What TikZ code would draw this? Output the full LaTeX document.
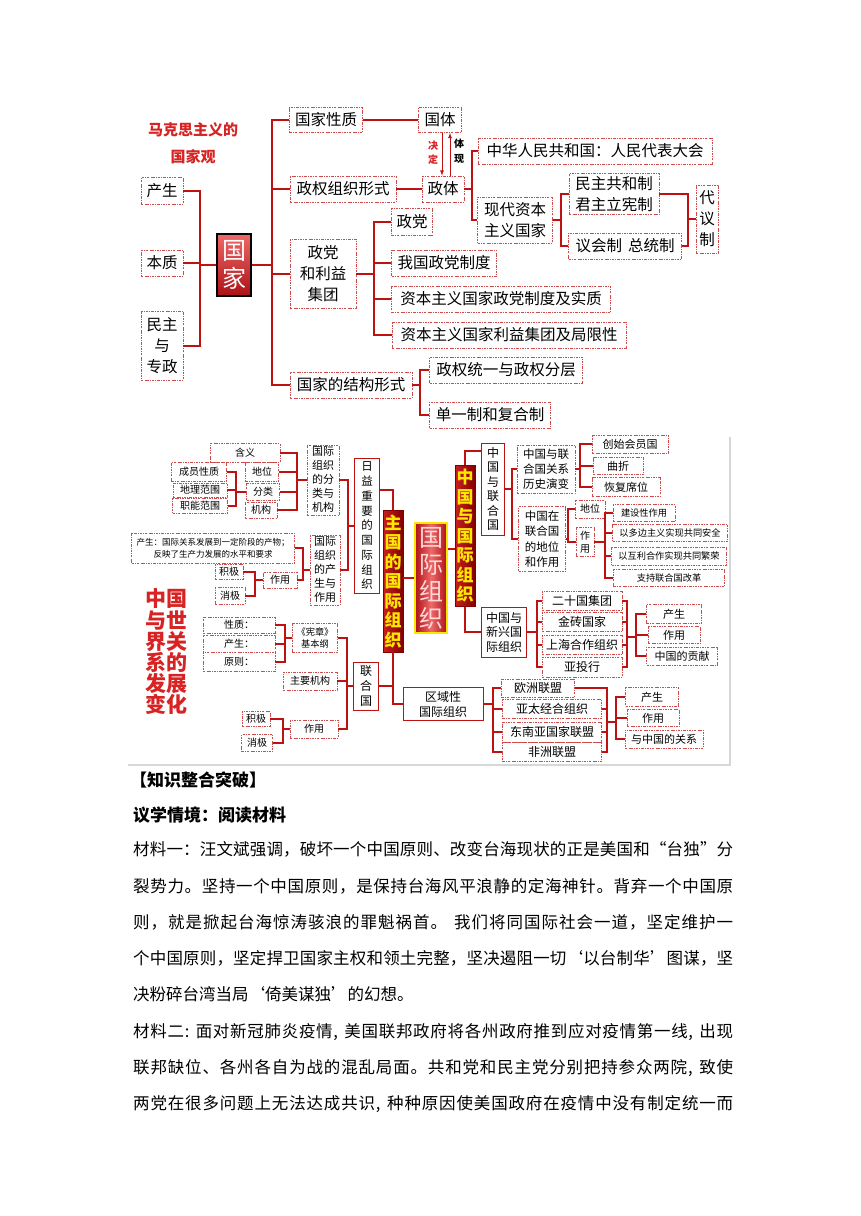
\documentclass[tikz,border=0pt]{standalone}
\usepackage{fontspec}
\setmainfont{Noto Sans CJK SC}

\definecolor{linkred}{RGB}{190,18,18}
\definecolor{dashred}{RGB}{205,75,75}
\definecolor{titlered}{RGB}{215,35,35}
\definecolor{boxdark}{RGB}{130,0,0}
\definecolor{boxmid}{RGB}{200,32,32}
\definecolor{shadelight}{RGB}{238,105,105}
\definecolor{shadedark}{RGB}{172,18,22}
\definecolor{goldtext}{RGB}{255,232,0}
\definecolor{framegray}{RGB}{215,215,215}

\newcommand\gap{\hskip 5pt\relax}
\def\spreadloop#1{\ifx#1\relax\else\hskip 0pt plus 1fil\relax#1\expandafter\spreadloop\fi}
\def\spreadfirst#1{#1\spreadloop}
\newcommand\textrow[1]{\makebox[600pt][s]{\spreadfirst#1\relax}}

\begin{document}
\begin{tikzpicture}[x=1pt,y=-1pt,
  link/.style={draw=linkred,line width=2.4pt},
  twig/.style={draw=linkred,line width=1.9pt},
  sz/.style 2 args={minimum width=#1pt,minimum height=#2pt},
  dbox/.style={draw=dashred,dash pattern=on 2.4pt off 1.2pt on 0.6pt off 1.2pt,line width=0.7pt,fill=white,inner sep=0pt,align=center,font=\fontsize{15.5}{21}\selectfont},
  cellbox/.style={dbox,font=\fontsize{12}{15}\selectfont},
  smallbox/.style={dbox,font=\fontsize{10}{12.5}\selectfont},
  tinybox/.style={dbox,font=\fontsize{9.2}{12}\selectfont},
  solidbox/.style={draw=linkred,line width=0.8pt,fill=white,inner sep=0pt,align=center,font=\fontsize{12}{15}\selectfont},
  pillar/.style={draw=boxdark,line width=0.8pt,left color=boxmid,right color=boxdark,text=goldtext,inner sep=0pt,align=center,font=\fontsize{17}{19.5}\bfseries},
  bodyrow/.style={anchor=west,inner sep=0pt,font=\fontsize{16.5}{16.5}\selectfont},
  heading/.style={anchor=west,inner sep=0pt,font=\fontsize{17}{17}\bfseries}]
\useasboundingbox[fill=white] (0,0) rectangle (860,1216);

\node[text=titlered,align=center,font=\fontsize{15}{27}\bfseries] (title-marx) at (193,143) {马克思主义的\\国家观};
\node[dbox,sz={42}{27}] (birth) at (162,191) {产生};
\node[dbox,sz={42}{26}] (essence) at (162,263) {本质};
\node[dbox,sz={42}{69}] (democ) at (162,346) {民主\\与\\专政};
\node[draw=black,line width=1.2pt,top color=shadelight,bottom color=shadedark,text=white,sz={34}{62},inner sep=0pt,align=center,font=\fontsize{24}{28}\selectfont] (state) at (234,265) {国\\家};

\node[dbox,sz={73}{25}] (nature) at (326,120) {国家性质};
\node[dbox,sz={106}{26}] (form) at (343,189) {政权组织形式};
\node[dbox,sz={66}{69}] (party) at (323,274) {政党\\和利益\\集团};
\node[dbox,sz={122}{26}] (structure) at (351,385) {国家的结构形式};
\node[dbox,sz={43}{25}] (guoti) at (440,120) {国体};
\node[dbox,sz={42}{26}] (zhengti) at (443,189) {政体};
\node[text=titlered,align=center,font=\fontsize{10}{14}\bfseries] (lbl-decide) at (433,153) {决\\定};
\node[align=center,font=\fontsize{10}{15}\bfseries] (lbl-embody) at (459,151) {体\\现};
\node[dbox,sz={234}{26}] (prc) at (595,151) {中华人民共和国：人民代表大会};
\node[dbox,sz={75}{46}] (capital) at (515,220) {现代资本\\主义国家};
\node[dbox,sz={90}{41}] (republic) at (614,194) {民主共和制\\君主立宪制};
\node[dbox,sz={113}{26}] (parliament) at (625,246) {议会制\hspace{6pt}总统制};
\node[dbox,sz={22}{68}] (rep) at (707,219) {代\\议\\制};
\node[dbox,sz={41}{27}] (zd) at (412,222) {政党};
\node[dbox,sz={105}{26}] (ourparty) at (444,263) {我国政党制度};
\node[dbox,sz={219}{26}] (cap-party) at (501,299) {资本主义国家政党制度及实质};
\node[dbox,sz={234}{26}] (cap-interest) at (509,335) {资本主义国家利益集团及局限性};
\node[dbox,sz={153}{26}] (unify) at (506,370) {政权统一与政权分层};
\node[dbox,sz={121}{26}] (unitary) at (490,415) {单一制和复合制};

\coordinate (left-stem) at (200,0);
\coordinate (trunk) at (272,0);
\coordinate (decide-x) at (442,0);
\coordinate (embody-x) at (450,0);
\coordinate (zhengti-br) at (472,0);
\coordinate (capital-br) at (561,0);
\coordinate (rep-join) at (688,219);
\coordinate (party-br) at (374,0);
\coordinate (structure-br) at (420,0);
\foreach \k in {birth,essence,democ}
  \draw[link] (\k.east) -- (\k.east -| left-stem) |- (state.west);
\foreach \k in {nature,form,party,structure}
  \draw[link] (state.east) -- (state.east -| trunk) |- (\k.west);
\draw[link] (nature.east) -- (guoti.west);
\draw[link] (form.east) -- (zhengti.west);
\draw[-latex,draw=linkred,line width=0.8pt] (guoti.south -| decide-x) -- (zhengti.north -| decide-x);
\draw[-latex,draw=linkred,line width=0.8pt] (zhengti.north -| embody-x) -- (guoti.south -| embody-x);
\foreach \k in {prc,capital}
  \draw[link] (zhengti.east) -- (zhengti.east -| zhengti-br) |- (\k.west);
\foreach \k in {republic,parliament}
  \draw[link] (capital.east) -- (capital.east -| capital-br) |- (\k.west);
\draw[link] (republic.east) -| (rep-join) -- (rep.west);
\draw[link] (parliament.east) -| (rep-join);
\foreach \k in {zd,ourparty,cap-party,cap-interest}
  \draw[link] (party.east) -- (party.east -| party-br) |- (\k.west);
\foreach \k in {unify,unitary}
  \draw[link] (structure.east) -- (structure.east -| structure-br) |- (\k.west);

\draw[framegray,line width=1.5pt] (128,765) -- (730,765) -- (730,437);
\node[text=titlered,align=center,font=\fontsize{21}{21.2}\bfseries] (title-world) at (166,652) {中国\\与世\\界关\\系的\\发展\\变化};
\node[draw=goldtext,line width=1.5pt,left color=shadedark,right color=shadedark,middle color=shadelight,text=white!85!red,sz={32}{110},inner sep=0pt,align=center,font=\fontsize{24}{27}\selectfont] (intl) at (431,578) {国\\际\\组\\织};
\node[pillar,sz={20}{142}] (major) at (393,581) {主\\国\\的\\国\\际\\组\\织};
\node[pillar,sz={20}{141}] (china-io) at (465,536) {中\\国\\与\\国\\际\\组\\织};
\node[solidbox,sz={25}{135},font=\fontsize{11.5}{14.75}\selectfont] (rising) at (367,526) {日\\益\\重\\要\\的\\国\\际\\组\\织};
\node[solidbox,sz={25}{48}] (un) at (366,686) {联\\合\\国};
\node[solidbox,sz={80}{33}] (regional) at (443,704) {区域性\\国际组织};
\node[solidbox,sz={23}{92},font=\fontsize{12}{14.5}\selectfont] (cn-un) at (493,489) {中\\国\\与\\联\\合\\国};
\node[solidbox,sz={45}{50},font=\fontsize{12}{14.5}\selectfont] (emerging) at (504,632) {中国与\\新兴国\\际组织};

\node[cellbox,sz={58}{48},font=\fontsize{11.5}{15}\selectfont] (history) at (546,469) {中国与联\\合国关系\\历史演变};
\node[cellbox,sz={47}{65},font=\fontsize{11.5}{15.5}\selectfont] (status) at (542,539) {中国在\\联合国\\的地位\\和作用};
\node[smallbox,sz={76}{18},font=\fontsize{11}{13}\selectfont] (founding) at (630,444) {创始会员国};
\node[smallbox,sz={50}{17},font=\fontsize{11}{13}\selectfont] (twists) at (618,466) {曲折};
\node[smallbox,sz={68}{19},font=\fontsize{11}{13}\selectfont] (restore) at (626,487) {恢复席位};
\node[smallbox,sz={30}{18}] (position) at (590,509) {地位};
\node[smallbox,sz={18}{29}] (role-v) at (585,542) {作\\用};
\node[tinybox,sz={62}{17}] (constr) at (644,513) {建设性作用};
\node[tinybox,sz={115}{17}] (secur) at (670,533) {以多边主义实现共同安全};
\node[tinybox,sz={115}{18}] (prosp) at (669,556) {以互利合作实现共同繁荣};
\node[tinybox,sz={111}{17}] (reform) at (669,578) {支持联合国改革};

\node[cellbox,sz={80}{19}] (g20) at (582,601) {二十国集团};
\node[cellbox,sz={80}{19}] (brics) at (582,622) {金砖国家};
\node[cellbox,sz={80}{19}] (sco) at (582,645) {上海合作组织};
\node[cellbox,sz={80}{20}] (aiib) at (582,667) {亚投行};
\node[smallbox,sz={55}{19},font=\fontsize{11}{13}\selectfont] (e-birth) at (674,614) {产生};
\node[smallbox,sz={52}{17},font=\fontsize{11}{13}\selectfont] (e-role) at (674,635) {作用};
\node[smallbox,sz={71}{18},font=\fontsize{11}{13}\selectfont] (e-contrib) at (682,656) {中国的贡献};

\node[cellbox,sz={73}{18}] (eu) at (538,688) {欧洲联盟};
\node[cellbox,sz={99}{19}] (apec) at (552,709) {亚太经合组织};
\node[cellbox,sz={99}{20}] (asean) at (552,732) {东南亚国家联盟};
\node[cellbox,sz={99}{19}] (au) at (552,752) {非洲联盟};
\node[smallbox,sz={53}{19},font=\fontsize{11}{13}\selectfont] (r-birth) at (652,697) {产生};
\node[smallbox,sz={52}{17},font=\fontsize{11}{13}\selectfont] (r-role) at (653,718) {作用};
\node[smallbox,sz={78}{18},font=\fontsize{11}{13}\selectfont] (r-rel) at (664,739) {与中国的关系};

\node[cellbox,sz={32}{70},font=\fontsize{11}{14}\selectfont] (cls) at (323,480) {国际\\组织\\的分\\类与\\机构};
\node[cellbox,sz={30}{70},font=\fontsize{11}{14}\selectfont] (origin) at (325,570) {国际\\组织\\的产\\生与\\作用};
\node[smallbox,sz={70}{19}] (meaning) at (245,453) {含义};
\node[smallbox,sz={33}{19}] (pos2) at (262,472) {地位};
\node[smallbox,sz={33}{17}] (kinds) at (263,492) {分类};
\node[smallbox,sz={32}{16}] (organ) at (261,510) {机构};
\node[smallbox,sz={55}{19}] (member) at (199,472) {成员性质};
\node[smallbox,sz={54}{14}] (geo) at (200,490) {地理范围};
\node[smallbox,sz={55}{15}] (func) at (200,506) {职能范围};
\node[dbox,sz={163}{30},font=\fontsize{8.5}{12}\selectfont] (produce) at (213,548) {产生：国际关系发展到一定阶段的产物；\\反映了生产力发展的水平和要求};
\node[smallbox,sz={34}{16}] (o-role) at (280,580) {作用};
\node[smallbox,sz={28}{15}] (pos-a) at (229,572) {积极};
\node[smallbox,sz={30}{17}] (neg-a) at (230,596) {消极};

\node[tinybox,sz={45}{29}] (charter) at (315,638) {《宪章》\\基本纲};
\node[smallbox,sz={54}{18}] (organs) at (310,681) {主要机构};
\node[smallbox,sz={48}{18}] (un-role) at (314,729) {作用};
\node[smallbox,sz={72}{16}] (nat) at (239,625) {性质：};
\node[smallbox,sz={72}{18}] (prod) at (239,644) {产生：};
\node[smallbox,sz={72}{19}] (princ) at (239,662) {原则：};
\node[smallbox,sz={28}{15}] (pos-b) at (256,719) {积极};
\node[smallbox,sz={31}{17}] (neg-b) at (257,743) {消极};

\coordinate (rising-br) at (348,0);
\coordinate (cls-br) at (297,0);
\coordinate (kinds-br) at (236,0);
\coordinate (origin-br) at (303,0);
\coordinate (orole-br) at (255,0);
\coordinate (un-br) at (347,0);
\coordinate (charter-br) at (285,0);
\coordinate (unrole-br) at (283,0);
\coordinate (regional-br) at (493,0);
\coordinate (eu-join) at (607,722);
\coordinate (eu-br) at (616,0);
\coordinate (emerging-br) at (537,0);
\coordinate (em-join) at (627,637);
\coordinate (em-br) at (636,0);
\coordinate (cnun-br) at (512,0);
\coordinate (history-br) at (580,0);
\coordinate (status-br) at (568,0);
\coordinate (rolev-br) at (605,0);

\draw[twig] (intl.west) -- (intl.west -| major.east);
\draw[twig] ([yshift=29pt]intl.east) -- ([yshift=29pt]intl.east -| china-io.west);
\draw[twig] (china-io.north) |- ([yshift=38pt]cn-un.west);
\draw[twig] (china-io.south) |- (emerging.west);
\draw[twig] (major.north) |- ([yshift=36pt]rising.east);
\draw[twig] (major.south) |- (un.east);
\draw[twig] (major.south) |- (regional.west);
\foreach \k in {cls,origin}
  \draw[twig] (rising.west) -- (rising.west -| rising-br) |- (\k.east);
\foreach \k in {meaning,pos2,kinds,organ}
  \draw[twig] (cls.west) -- (cls.west -| cls-br) |- (\k.east);
\foreach \k in {member,geo,func}
  \draw[twig] (kinds.west) -- (kinds.west -| kinds-br) |- (\k.east);
\foreach \k in {produce,o-role}
  \draw[twig] (origin.west) -- (origin.west -| origin-br) |- (\k.east);
\foreach \k in {pos-a,neg-a}
  \draw[twig] (o-role.west) -- (o-role.west -| orole-br) |- (\k.east);
\foreach \k in {charter,organs,un-role}
  \draw[twig] (un.west) -- (un.west -| un-br) |- (\k.east);
\foreach \k in {nat,prod,princ}
  \draw[twig] (charter.west) -- (charter.west -| charter-br) |- (\k.east);
\foreach \k in {pos-b,neg-b}
  \draw[twig] (un-role.west) -- (un-role.west -| unrole-br) |- (\k.east);
\foreach \k in {eu,apec,asean,au}
  \draw[twig] (regional.east) -- (regional.east -| regional-br) |- (\k.west);
\foreach \k in {eu,apec,asean,au}
  \draw[twig] (\k.east) -| (eu-join);
\foreach \k in {r-birth,r-role,r-rel}
  \draw[twig] (eu-join) -- (eu-join -| eu-br) |- (\k.west);
\foreach \k in {g20,brics,sco,aiib}
  \draw[twig] (emerging.east) -- (emerging.east -| emerging-br) |- (\k.west);
\foreach \k in {g20,brics,sco,aiib}
  \draw[twig] (\k.east) -| (em-join);
\foreach \k in {e-birth,e-role,e-contrib}
  \draw[twig] (em-join) -- (em-join -| em-br) |- (\k.west);
\foreach \k in {history,status}
  \draw[twig] (cn-un.east) -- (cn-un.east -| cnun-br) |- (\k.west);
\foreach \k in {founding,twists,restore}
  \draw[twig] (history.east) -- (history.east -| history-br) |- (\k.west);
\foreach \k in {position,role-v}
  \draw[twig] (status.east) -- (status.east -| status-br) |- (\k.west);
\foreach \k in {constr,secur,prosp,reform}
  \draw[twig] (role-v.east) -- (role-v.east -| rolev-br) |- (\k.west);

\node[heading] (hd-knowledge) at (130,780) {【知识整合突破】};
\node[heading] (hd-scene) at (133,815) {议学情境：阅读材料};
\node[bodyrow] (mat-one-a) at (133,849) {\textrow{材料一：汪文斌强调，破坏一个中国原则、改变台海现状的正是美国和“台独”分}};
\node[bodyrow] (mat-one-b) at (133,886) {\textrow{裂势力。坚持一个中国原则，是保持台海风平浪静的定海神针。背弃一个中国原}};
\node[bodyrow] (mat-one-c) at (133,922) {\textrow{则，就是掀起台海惊涛骇浪的罪魁祸首。\gap 我们将同国际社会一道，坚定维护一}};
\node[bodyrow] (mat-one-d) at (133,958) {\textrow{个中国原则，坚定捍卫国家主权和领土完整，坚决遏阻一切‘以台制华’图谋，坚}};
\node[bodyrow] (mat-one-e) at (133,994) {决粉碎台湾当局‘倚美谋独’的幻想。};
\node[bodyrow] (mat-two-a) at (133,1032) {\textrow{材料二:\gap 面对新冠肺炎疫情,\gap 美国联邦政府将各州政府推到应对疫情第一线,\gap 出现}};
\node[bodyrow] (mat-two-b) at (133,1068) {\textrow{联邦缺位、各州各自为战的混乱局面。共和党和民主党分别把持参众两院,\gap 致使}};
\node[bodyrow] (mat-two-c) at (133,1104) {\textrow{两党在很多问题上无法达成共识,\gap 种种原因使美国政府在疫情中没有制定统一而}};
\end{tikzpicture}
\end{document}
